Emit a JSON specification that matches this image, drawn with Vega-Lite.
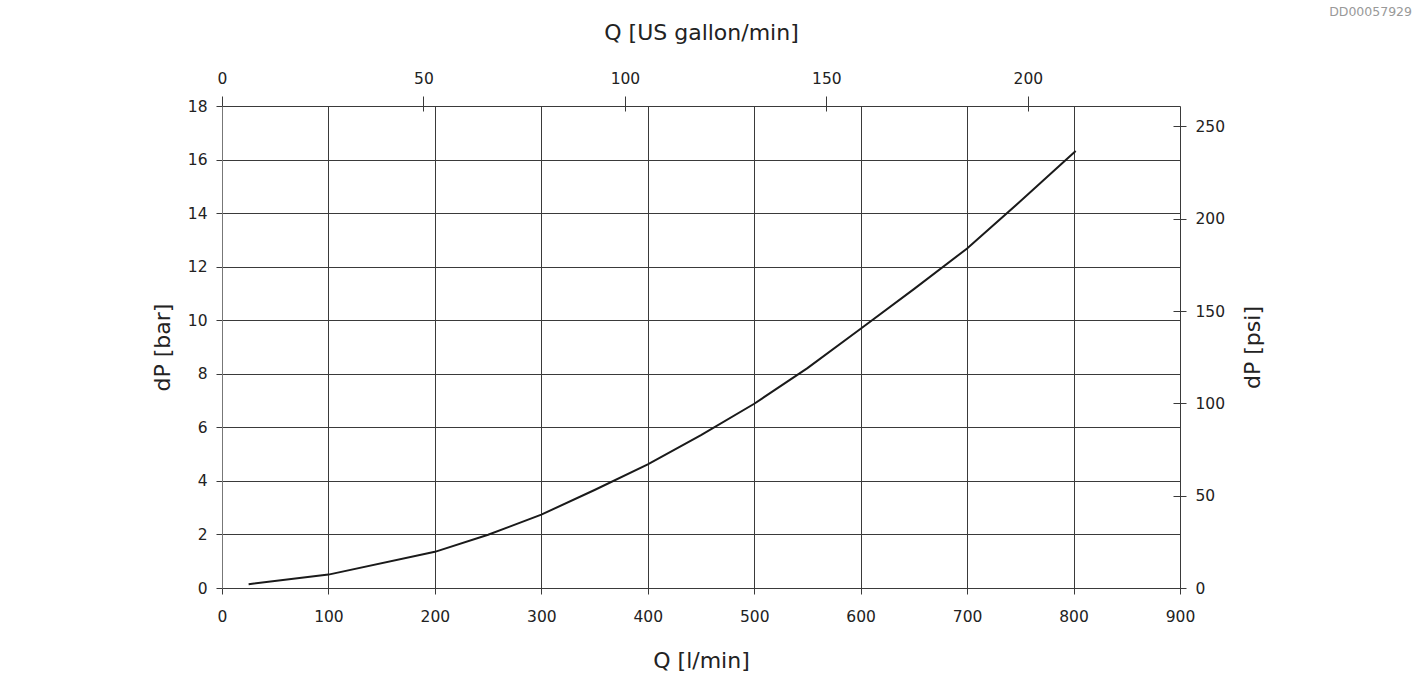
{
  "$schema": "https://vega.github.io/schema/vega-lite/v6.json",
  "width": 958,
  "height": 482,
  "autosize": {"type": "none"},
  "padding": {"left": 222, "top": 106, "right": 247, "bottom": 101},
  "background": "white",
  "title": {"text": "DD00057929", "anchor": "end", "frame": "group", "orient": "top", "dx": 232, "offset": 3, "fontSize": 12.5, "font": "DejaVu Sans", "fontWeight": "normal", "color": "#999999"},
  "config": {
    "view": {"stroke": null},
    "font": "DejaVu Sans",
    "axis": {"labelFont": "DejaVu Sans", "titleFont": "DejaVu Sans", "labelFontSize": 15.5, "titleFontSize": 22, "titleFontWeight": "normal", "labelColor": "#222222", "titleColor": "#222222", "tickColor": "#3a3a3a", "gridColor": "#3a3a3a", "gridOpacity": 1, "gridWidth": 1, "tickWidth": 1}
  },
  "datasets": {
    "curve": [
      {"q": 25, "dp": 0.14},
      {"q": 100, "dp": 0.5},
      {"q": 200, "dp": 1.35},
      {"q": 250, "dp": 1.99},
      {"q": 300, "dp": 2.74},
      {"q": 350, "dp": 3.66},
      {"q": 400, "dp": 4.62},
      {"q": 450, "dp": 5.71},
      {"q": 500, "dp": 6.88},
      {"q": 550, "dp": 8.21},
      {"q": 600, "dp": 9.68},
      {"q": 650, "dp": 11.16},
      {"q": 700, "dp": 12.68},
      {"q": 750, "dp": 14.44},
      {"q": 802, "dp": 16.32}
    ],
    "extent": [
      {"gpm": 0, "psi": 0},
      {"gpm": 237.755, "psi": 261.068}
    ]
  },
  "layer": [
    {
      "data": {"name": "curve"},
      "mark": {"type": "line", "color": "#1a1a1a", "strokeWidth": 2},
      "encoding": {
        "x": {"field": "q", "type": "quantitative", "title": "Q [l/min]",
              "scale": {"domain": [0, 900], "nice": false},
              "axis": {"orient": "bottom", "values": [0, 100, 200, 300, 400, 500, 600, 700, 800, 900], "grid": true, "domain": false, "tickSize": 6, "labelPadding": 15, "titlePadding": 26, "labelFlush": false}},
        "y": {"field": "dp", "type": "quantitative", "title": "dP [bar]",
              "scale": {"domain": [0, 18], "nice": false},
              "axis": {"orient": "left", "values": [0, 2, 4, 6, 8, 10, 12, 14, 16, 18], "grid": true, "domain": true, "domainColor": "#777777", "tickSize": 6, "labelPadding": 9, "titlePadding": 13, "labelFlush": false}}
      }
    },
    {
      "data": {"name": "extent"},
      "mark": {"type": "point", "opacity": 0},
      "encoding": {
        "x": {"field": "gpm", "type": "quantitative", "title": "Q [US gallon/min]",
              "scale": {"domain": [0, 237.755], "nice": false},
              "axis": {"orient": "top", "values": [0, 50, 100, 150, 200], "grid": false, "domain": false, "offset": -5, "tickSize": 15, "labelPadding": 10, "titlePadding": 27, "labelFlush": false}},
        "y": {"field": "psi", "type": "quantitative", "title": "dP [psi]",
              "scale": {"domain": [0, 261.068], "nice": false},
              "axis": {"orient": "right", "values": [0, 50, 100, 150, 200, 250], "grid": false, "domain": false, "offset": -7, "tickSize": 13, "labelPadding": 9, "titlePadding": 40, "titleAngle": 270, "titleBaseline": "bottom", "labelFlush": false}}
      }
    }
  ],
  "resolve": {"scale": {"x": "independent", "y": "independent"}}
}
